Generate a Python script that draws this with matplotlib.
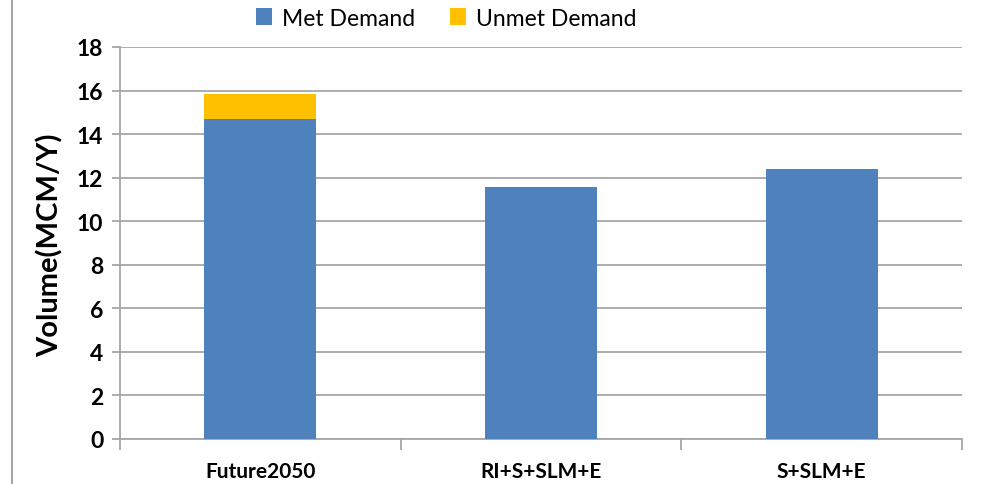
import numpy as np
import matplotlib.pyplot as plt
from matplotlib.lines import Line2D

# data
scenarios = ["Future2050", "RI+S+SLM+E", "S+SLM+E"]
met_demand = [14.7, 11.55, 12.4]
unmet_demand = [1.13, 0.0, 0.0]
y_ticks = [0, 2, 4, 6, 8, 10, 12, 14, 16, 18]

plt.rcParams['font.family'] = ['Lato', 'DejaVu Sans']

fig = plt.figure(figsize=(9.87, 4.85), dpi=100)
ax = fig.add_axes([120 / 987, 1 - 440 / 485, 842 / 987, 392 / 485])

x = np.arange(len(scenarios))
ax.bar(x, met_demand, width=0.4, color="#4F81BD", label="Met Demand", zorder=3)
ax.bar(x, unmet_demand, width=0.4, bottom=met_demand, color="#FFC000",
       label="Unmet Demand", zorder=3)

ax.set_xlim(-0.5, len(scenarios) - 0.5)
ax.set_ylim(0, 18)
ax.set_yticks(y_ticks)
ax.set_yticklabels([str(v) for v in y_ticks], fontsize=16.5, fontweight="bold")
ax.yaxis.grid(True, color="#a6a6a6", linewidth=1.3, zorder=0)
ax.set_axisbelow(True)

# category labels between the boundary ticks
ax.set_xticks(x)
ax.set_xticklabels(scenarios, fontsize=15, fontweight="bold")
ax.tick_params(axis="x", length=0, pad=16)
ax.set_xticks(np.arange(-0.5, len(scenarios)), minor=True)
ax.tick_params(axis="x", which="minor", length=8, color="#a6a6a6", width=1.3)
ax.tick_params(axis="y", length=6, color="#a6a6a6", width=1.3, pad=6)

for side in ["top", "right"]:
    ax.spines[side].set_visible(False)
ax.spines["left"].set_color("#a6a6a6")
ax.spines["bottom"].set_color("#a6a6a6")
ax.spines["left"].set_linewidth(1.3)
ax.spines["bottom"].set_linewidth(1.3)

# y label placed in figure pixels
fig.text(50 / 987, 1 - 245 / 485, "Volume(MCM/Y)", rotation=90, ha="center",
         va="center", fontsize=21, fontweight="bold")

fig.legend(loc="upper center", bbox_to_anchor=(0.452, 1.025), ncol=2,
           frameon=False, fontsize=16.5, handlelength=0.7, handleheight=0.7,
           columnspacing=1.5, handletextpad=0.45)

# outer frame line on the left of the picture
fig.add_artist(Line2D([12 / 987, 12 / 987], [0, 1], color="#a6a6a6", linewidth=1.5))

fig.savefig("out.png", dpi=100)
